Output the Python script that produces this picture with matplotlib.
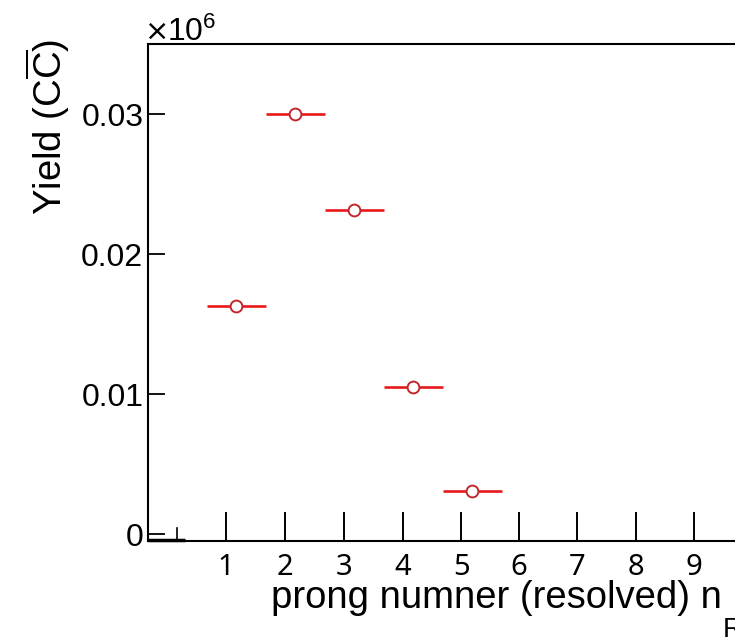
import matplotlib
matplotlib.use("Agg")
import matplotlib.pyplot as plt
import numpy as np

# data
bin_centers = [1.5, 2.5, 3.5, 4.5, 5.5]
bin_halfwidth = [0.5, 0.5, 0.5, 0.5, 0.5]
yields = [0.01629, 0.0300, 0.02314, 0.0105, 0.00307]
x_tick_labels = ["1", "2", "3", "4", "5", "6", "7", "8", "9"]
x_tick_pos = [1.33, 2.33, 3.33, 4.33, 5.32, 6.30, 7.28, 8.28, 9.26]
y_ticks = [0, 0.01, 0.02, 0.03]
y_tick_labels = ["0", "0.01", "0.02", "0.03"]

plt.rcParams['mathtext.fontset'] = 'custom'
plt.rcParams['mathtext.rm'] = 'Liberation Sans'
plt.rcParams['mathtext.it'] = 'Liberation Sans:italic'

W, H = 735, 637
fig = plt.figure(figsize=(W / 100, H / 100), dpi=100)
x0, x1, ytop, ybot = 147.5, 737.5, 44, 541
ax = fig.add_axes([x0 / W, (H - ybot) / H, (x1 - x0) / W, (ybot - ytop) / H])

ax.errorbar(bin_centers, yields, xerr=bin_halfwidth, fmt='none',
            ecolor='#e8191c', elinewidth=1.9, capsize=0, zorder=3)
ax.plot(bin_centers, yields, linestyle='none', marker='o', markersize=8.5,
        markerfacecolor='white', markeredgecolor='#c0282d', markeredgewidth=1.4,
        zorder=4)

ax.set_xlim(0, 10)
ax.set_ylim(-0.0005, 0.035)

for s in ['left', 'bottom', 'top', 'right']:
    ax.spines[s].set_linewidth(1.5)

ax.set_yticks(y_ticks)
ax.set_yticklabels(y_tick_labels, family='Liberation Sans', fontsize=23)
ax.tick_params(axis='y', direction='in', length=12, width=1.3, pad=3)

ax.set_xticks(x_tick_pos)
ax.set_xticklabels(x_tick_labels, family='Noto Sans', fontsize=21)
ax.tick_params(axis='x', direction='in', length=21, width=1.4, pad=8.5)

# small original tick near origin and thick segment
ax.plot([0.5, 0.5], [-0.0005, 0.0004], color='black', lw=1.2, clip_on=False)
ax.plot([0, 0.64], [-0.00045, -0.00045], color='black', lw=2.5, solid_capstyle='butt', clip_on=False)

fig.text(24 / W, 1 - 127 / H, r'Yield (C$\overline{\mathrm{C}}$)', rotation=90,
         family='Liberation Sans', fontsize=27.5, ha='left', va='center')
fig.text(145 / W, 1 - 40 / H, '×', family='DejaVu Sans',
         fontsize=21, ha='left', va='baseline')
fig.text(167 / W, 1 - 41 / H, r'$\mathrm{10^{6}}$', family='Liberation Sans',
         fontsize=23, ha='left', va='baseline')
fig.text(271 / W, 1 - 608 / H, 'prong numner (resolved) n', family='Liberation Sans',
         fontsize=27.5, ha='left', va='baseline')
fig.text(723 / W, 1 - 617 / H, 'R', family='Liberation Sans',
         fontsize=20, ha='left', va='top')

fig.savefig('out.png', dpi=100)
